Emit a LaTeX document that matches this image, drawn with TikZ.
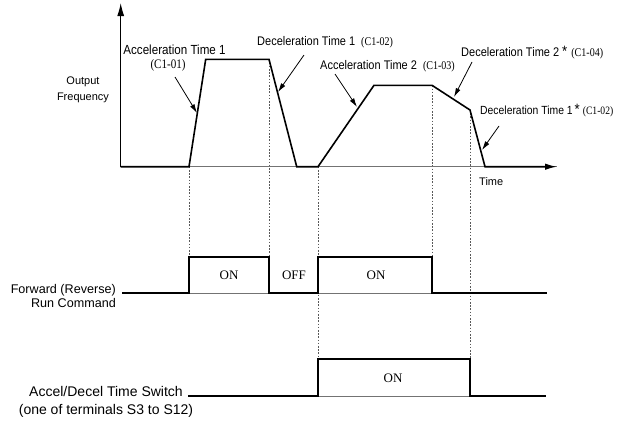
\documentclass[tikz,border=0pt]{standalone}
\usepackage{fontspec}
\setmainfont{Liberation Serif}
\setsansfont{Liberation Sans}
\newfontfamily\narrowsans{Liberation Sans}[FakeStretch=0.88]
\newfontfamily\narrowserif{Liberation Serif}[FakeStretch=0.85]
\usetikzlibrary{arrows.meta}
\newcommand\codetxt[1]{{\narrowserif\fontsize{11.8}{13}\selectfont #1}}
\newcommand\bigstar{{\fontsize{15}{15}\selectfont *}}
\begin{document}
\begin{tikzpicture}[x=1pt,y=-1pt,
  sig/.style={line width=1.6pt, line join=miter},
  baseln/.style={line width=0.6pt, draw=black!55},
  guide/.style={line width=0.7pt, draw=black!65, dash pattern=on 1.6pt off 1.6pt},
  lead/.style={line width=0.8pt, -{Latex[length=9pt,width=5pt]}},
  toplab/.style={font=\narrowsans\fontsize{12.5}{14}\selectfont, inner sep=0pt},
  sidelab/.style={font=\sffamily\fontsize{12.6}{14}\selectfont, inner sep=0pt},
  onoff/.style={font=\rmfamily\fontsize{13}{15}\selectfont, inner sep=0pt}]
\useasboundingbox (0,0) rectangle (620,421);

% frequency curve points
\coordinate (O) at (120.7,166.7);
\coordinate (ytip) at (120.7,3);
\coordinate (xtip) at (557,166.7);
\coordinate (a0) at (189,166.7);
\coordinate (a1) at (205.7,59.3);
\coordinate (a2) at (269,59.3);
\coordinate (a3) at (296.7,166.7);
\coordinate (b0) at (318,166.7);
\coordinate (b1) at (374,85.3);
\coordinate (b2) at (432,85.3);
\coordinate (b3) at (470,110);
\coordinate (b4) at (485,166.7);

% run command points
\coordinate (r0) at (122,293);
\coordinate (r1) at (189,293);
\coordinate (r2) at (189,257);
\coordinate (r3) at (269,257);
\coordinate (r4) at (269,293);
\coordinate (r5) at (318,293);
\coordinate (r6) at (318,257);
\coordinate (r7) at (432,257);
\coordinate (r8) at (432,293);
\coordinate (r9) at (547,293);

% accel/decel switch points
\coordinate (s0) at (188,396);
\coordinate (s1) at (318,396);
\coordinate (s2) at (318,359);
\coordinate (s3) at (470,359);
\coordinate (s4) at (470,396);
\coordinate (s5) at (546,396);

% dotted guides
\draw[guide] (a0) -- (r2);
\draw[guide] (a2) -- (r3);
\draw[guide] (b0) -- (s2);
\draw[guide] (b2) -- (r7);
\draw[guide] (b3) -- (s3);

% axes
\draw[baseln] (O) -- (xtip);
\draw[line width=1.1pt, -{Latex[length=13pt,width=7pt]}] (O) -- (ytip);
\draw[sig, -{Latex[length=12pt,width=6.5pt]}] (O) -- (a0) -- (a1) -- (a2) -- (a3) -- (b0) -- (b1) -- (b2) -- (b3) -- (b4) -- (xtip);

% timing signals
\draw[baseln] (r0) -- (r9);
\draw[sig] (r0) -- (r1) -- (r2) -- (r3) -- (r4) -- (r5) -- (r6) -- (r7) -- (r8) -- (r9);
\draw[baseln] (s0) -- (s5);
\draw[sig] (s0) -- (s1) -- (s2) -- (s3) -- (s4) -- (s5);

% labels
\node[font=\sffamily\fontsize{11}{16}\selectfont, inner sep=0pt, align=center] (outf) at (83,90) {Output\\Frequency};
\node[font=\sffamily\fontsize{11}{13}\selectfont, inner sep=0pt, anchor=west] (time) at (479,182) {Time};

\node[toplab, font=\narrowsans\fontsize{13.2}{15}\selectfont] (acc1) at (174.5,50) {Acceleration Time 1};
\node[inner sep=0pt] (acc1c) at (168,65.5) {{\narrowserif\fontsize{13}{14}\selectfont (C1-01)}};
\node[toplab, anchor=west] (dec1) at (257,42) {Deceleration Time 1\hspace{6pt}\codetxt{(C1-02)}};
\node[toplab, anchor=west] (acc2) at (320,66) {Acceleration Time 2\hspace{6pt}\codetxt{(C1-03)}};
\node[toplab, anchor=west] (dec2) at (461,53) {Deceleration Time 2\hspace{3pt}\bigstar\hspace{4pt}\codetxt{(C1-04)}};
\node[toplab, anchor=west, font=\narrowsans\fontsize{11.8}{14}\selectfont] (dec1b) at (480,111) {Deceleration Time 1\hspace{2pt}\bigstar\hspace{3pt}{\narrowserif\fontsize{11.3}{13}\selectfont (C1-02)}};

% leader arrows
\coordinate (l1s) at (175,77);   \coordinate (l1e) at (197,113);
\coordinate (l2s) at (304,55);   \coordinate (l2e) at (278,92);
\coordinate (l3s) at (335,74);   \coordinate (l3e) at (357,107);
\coordinate (l4s) at (472,62);   \coordinate (l4e) at (454,97);
\coordinate (l5s) at (499,126);  \coordinate (l5e) at (482,150);
\draw[lead] (l1s) -- (l1e);
\draw[lead] (l2s) -- (l2e);
\draw[lead] (l3s) -- (l3e);
\draw[lead] (l4s) -- (l4e);
\draw[lead] (l5s) -- (l5e);

% timing chart texts
\node[onoff] (on1) at (229,275) {ON};
\node[onoff] (off1) at (294,275) {OFF};
\node[onoff] (on2) at (376,275) {ON};
\node[onoff] (on3) at (393,378) {ON};

\node[sidelab, align=right, anchor=east] (fwd) at (116,296) {Forward (Reverse)\\Run Command};
\node[sidelab, align=center, font=\sffamily\fontsize{14}{18}\selectfont] (sw) at (106,402) {Accel/Decel Time Switch\\(one of terminals S3 to S12)};
\end{tikzpicture}
\end{document}
